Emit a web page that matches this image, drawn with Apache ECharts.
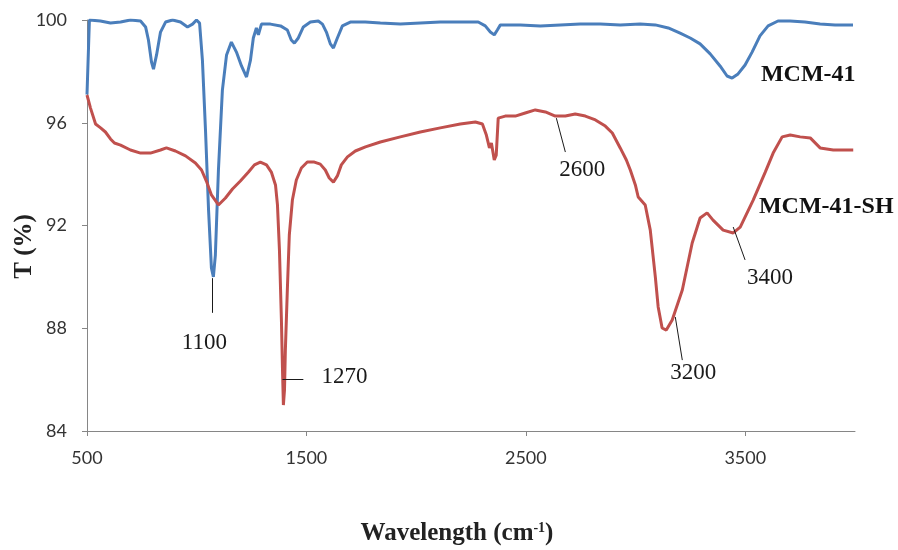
<!DOCTYPE html>
<html>
<head>
<meta charset="utf-8">
<script src="https://cdn.jsdelivr.net/npm/echarts@6/dist/echarts.min.js"></script>
<style>
  html, body { margin: 0; padding: 0; background: #fff; }
  #chart { width: 898px; height: 550px; }
</style>
</head>
<body>
<div id="chart"></div>
<script>
// FTIR spectra: transmittance (%) against wavenumber (cm-1)
const mcm41X = [500, 511, 561, 607, 653, 698, 744, 767, 780, 794, 803, 817, 835, 858, 890, 926, 958, 981, 999, 1013, 1026, 1040, 1054, 1067, 1076, 1085, 1099, 1117, 1136, 1158, 1181, 1204, 1227, 1245, 1258, 1272, 1281, 1295, 1336, 1382, 1413, 1431, 1445, 1463, 1486, 1518, 1554, 1573, 1591, 1609, 1623, 1641, 1664, 1700, 1768, 1837, 1928, 2019, 2110, 2201, 2283, 2315, 2338, 2356, 2370, 2384, 2475, 2566, 2657, 2748, 2839, 2930, 3021, 3090, 3149, 3203, 3249, 3294, 3340, 3385, 3417, 3440, 3467, 3499, 3531, 3567, 3604, 3649, 3704, 3772, 3841, 3909, 3991];
const mcm41T = [97.1, 100.0, 99.96, 99.88, 99.92, 100.0, 99.96, 99.73, 99.22, 98.36, 98.09, 98.64, 99.53, 99.92, 100.0, 99.92, 99.73, 99.84, 100.0, 99.88, 98.44, 95.72, 92.6, 90.35, 90.0, 90.85, 94.16, 97.27, 98.64, 99.14, 98.75, 98.21, 97.78, 98.44, 99.3, 99.69, 99.42, 99.84, 99.84, 99.77, 99.61, 99.22, 99.1, 99.3, 99.73, 99.92, 99.96, 99.84, 99.53, 99.07, 98.91, 99.3, 99.77, 99.92, 99.92, 99.88, 99.84, 99.88, 99.92, 99.92, 99.92, 99.77, 99.53, 99.42, 99.61, 99.81, 99.81, 99.77, 99.81, 99.84, 99.84, 99.81, 99.84, 99.81, 99.69, 99.49, 99.3, 99.07, 98.68, 98.21, 97.82, 97.74, 97.9, 98.25, 98.75, 99.38, 99.77, 99.96, 99.96, 99.92, 99.84, 99.81, 99.81];

const mcm41shX = [500, 516, 539, 562, 584, 607, 625, 653, 698, 744, 789, 835, 862, 903, 949, 994, 1022, 1044, 1067, 1099, 1131, 1163, 1199, 1236, 1263, 1290, 1318, 1340, 1359, 1368, 1377, 1386, 1391, 1395, 1400, 1404, 1413, 1422, 1436, 1454, 1477, 1504, 1536, 1563, 1586, 1604, 1623, 1641, 1659, 1687, 1723, 1769, 1837, 1928, 2019, 2110, 2201, 2270, 2302, 2320, 2334, 2343, 2356, 2365, 2374, 2406, 2452, 2497, 2543, 2589, 2634, 2680, 2725, 2771, 2817, 2862, 2894, 2930, 2958, 2976, 2999, 3012, 3044, 3067, 3090, 3103, 3121, 3140, 3167, 3213, 3258, 3294, 3326, 3353, 3399, 3445, 3477, 3536, 3591, 3627, 3668, 3705, 3750, 3796, 3841, 3901, 3992];
const mcm41shT = [97.08, 96.57, 95.95, 95.8, 95.64, 95.37, 95.21, 95.13, 94.94, 94.82, 94.82, 94.94, 95.02, 94.9, 94.71, 94.43, 94.16, 93.73, 93.19, 92.8, 93.07, 93.42, 93.73, 94.08, 94.36, 94.47, 94.36, 94.08, 93.58, 92.8, 91.05, 88.32, 86.37, 85.01, 85.59, 87.15, 89.49, 91.63, 92.99, 93.77, 94.24, 94.47, 94.47, 94.39, 94.16, 93.85, 93.69, 93.93, 94.36, 94.67, 94.9, 95.06, 95.25, 95.45, 95.64, 95.8, 95.95, 96.03, 95.95, 95.52, 95.02, 95.21, 94.55, 94.74, 96.18, 96.26, 96.26, 96.38, 96.5, 96.42, 96.26, 96.26, 96.34, 96.26, 96.11, 95.87, 95.6, 95.02, 94.55, 94.16, 93.58, 93.11, 92.8, 91.82, 90.0, 88.83, 88.01, 87.93, 88.32, 89.49, 91.32, 92.29, 92.49, 92.21, 91.82, 91.71, 91.94, 92.99, 94.08, 94.82, 95.45, 95.52, 95.45, 95.41, 95.02, 94.94, 94.94];

const xTicks = [500, 1500, 2500, 3500];
const yTicks = [84, 88, 92, 96, 100];

// Band annotations: text, text anchor, leader line ends (wavenumber, T)
const bandLabels = ['1100', '1270', '2600', '3200', '3400'];
const bandTextAt = [[1035, 87.43], [1673, 86.1], [2757, 94.16], [3263, 86.26], [3613, 89.96]];
const bandLeaderFrom = [[1072, 89.95], [1391, 86.02], [2639, 96.18], [3181, 88.44], [3445, 91.94]];
const bandLeaderTo = [[1072, 88.6], [1486, 86.02], [2680, 94.86], [3213, 86.76], [3499, 90.66]];

const seriesNames = ['MCM-41', 'MCM-41-SH'];
const seriesNameAt = [[3787, 97.86], [3869, 92.72]];

const pairs = (xs, ys) => xs.map((x, i) => [x, ys[i]]);
const serif = '"Liberation Serif", "Times New Roman", serif';

const chart = echarts.init(document.getElementById('chart'), null, { renderer: 'canvas' });

function nameTag(i) {
  return {
    coord: seriesNameAt[i],
    symbol: 'rect',
    symbolSize: 1,
    itemStyle: { color: 'rgba(0,0,0,0)' },
    label: {
      show: true, position: 'inside', formatter: seriesNames[i],
      fontFamily: serif, fontWeight: 'bold', fontSize: 24, color: '#111'
    }
  };
}

chart.setOption({
  animation: false,
  backgroundColor: '#fff',
  grid: { left: 87, right: 43, top: 20, bottom: 119, containLabel: false, outerBoundsMode: 'none' },
  xAxis: {
    type: 'value', min: 500, max: 4000,
    name: 'Wavelength (cm{sup|-1})',
    nameLocation: 'middle', nameGap: 90,
    nameTextStyle: {
      fontFamily: serif, fontWeight: 'bold', fontSize: 25, color: '#222',
      padding: [0, 28, 0, 0],
      rich: { sup: { fontFamily: serif, fontWeight: 'bold', fontSize: 14, color: '#222', verticalAlign: 'top', padding: [0, 0, 12, 0] } }
    },
    axisLine: { lineStyle: { color: '#868686', width: 1 } },
    axisTick: { show: true, length: 5, customValues: xTicks, lineStyle: { color: '#868686' } },
    axisLabel: { customValues: xTicks, formatter: v => String(v), fontFamily: 'Lato', fontSize: 18, color: '#333', margin: 18 },
    splitLine: { show: false }
  },
  yAxis: {
    type: 'value', min: yTicks[0], max: yTicks[yTicks.length - 1], interval: 4,
    name: 'T (%)',
    nameLocation: 'middle', nameGap: 50, nameRotate: 90, nameMoveOverlap: false,
    nameTextStyle: { fontFamily: serif, fontWeight: 'bold', fontSize: 25, color: '#222', padding: [0, 42, 0, 0] },
    axisLine: { show: true, lineStyle: { color: '#868686', width: 1 } },
    axisTick: { show: true, length: 5, lineStyle: { color: '#868686' } },
    axisLabel: { formatter: v => String(v), fontFamily: 'Lato', fontSize: 18, color: '#333', margin: 20 },
    splitLine: { show: false }
  },
  series: [
    {
      name: seriesNames[0], type: 'line', data: pairs(mcm41X, mcm41T),
      showSymbol: false, smooth: false,
      lineStyle: { color: '#4A7EBB', width: 3 }, itemStyle: { color: '#4A7EBB' },
      z: 3,
      markPoint: { silent: true, data: [nameTag(0)] }
    },
    {
      name: seriesNames[1], type: 'line', data: pairs(mcm41shX, mcm41shT),
      showSymbol: false, smooth: false,
      lineStyle: { color: '#C0504D', width: 3 }, itemStyle: { color: '#C0504D' },
      z: 4,
      markPoint: {
        silent: true,
        data: [nameTag(1)].concat(bandLabels.map((t, i) => ({
          coord: bandTextAt[i],
          symbol: 'rect', symbolSize: 1,
          itemStyle: { color: 'rgba(0,0,0,0)' },
          label: { show: true, position: 'inside', formatter: t, fontFamily: serif, fontSize: 23, color: '#1a1a1a' }
        })))
      },
      markLine: {
        silent: true, symbol: 'none',
        label: { show: false },
        lineStyle: { color: '#1a1a1a', width: 1, type: 'solid' },
        data: bandLabels.map((t, i) => [{ coord: bandLeaderFrom[i] }, { coord: bandLeaderTo[i] }])
      }
    }
  ]
});
</script>
</body>
</html>
